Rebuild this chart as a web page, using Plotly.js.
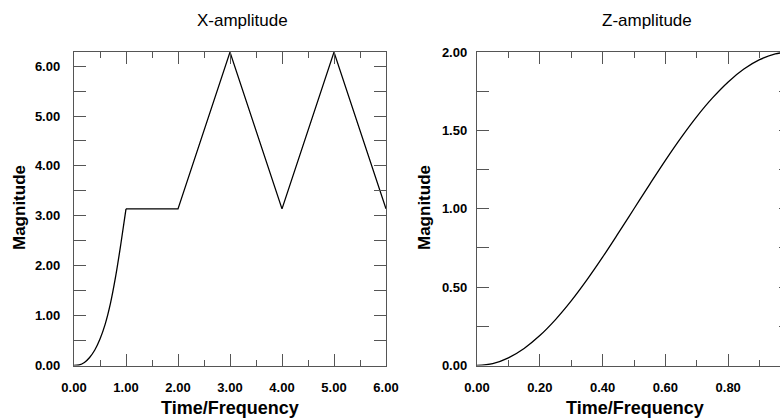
<!DOCTYPE html>
<html>
<head>
<meta charset="utf-8">
<script src="https://cdn.plot.ly/plotly-3.0.1.min.js"></script>
<style>
html,body{margin:0;padding:0;overflow:hidden;background:#fff;}
#chart{width:800px;height:420px;}
</style>
</head>
<body>
<div id="chart"></div>
<script>
// X-amplitude series
const xTime = [0, 0.1, 0.2, 0.3, 0.4, 0.5, 0.6, 0.7, 0.8, 0.9, 1.0, 2.0, 3.0, 4.0, 5.0, 6.0];
const xMag  = [0, 0.01, 0.06, 0.16, 0.31, 0.53, 0.83, 1.24, 1.78, 2.43, 3.14, 3.14, 6.28, 3.14, 6.28, 3.14];

// Z-amplitude series
const zTime = [0, 0.05, 0.1, 0.15, 0.2, 0.25, 0.3, 0.35, 0.4, 0.45, 0.5, 0.55, 0.6, 0.65, 0.7, 0.75, 0.8, 0.85, 0.9, 0.95, 1.0];
const zMag  = [0, 0.012, 0.049, 0.109, 0.191, 0.293, 0.412, 0.546, 0.691, 0.844, 1.0, 1.156, 1.309, 1.454, 1.588, 1.707, 1.809, 1.891, 1.951, 1.988, 2.0];

const titles = ['X-amplitude', 'Z-amplitude'];
const xTitle = 'Time/Frequency';
const yTitle = 'Magnitude';

const W = 800, H = 420;
const FONT = '"Liberation Sans", Arial, Helvetica, sans-serif';
const frame = '#555555';

function px(x){ return x / W; }
function py(y){ return 1 - y / H; }

// the smooth rise (first 11 points) is drawn as a spline, the rest as straight segments
const riseEnd = 11;
const traces = [
  {x: xTime.slice(0, riseEnd), y: xMag.slice(0, riseEnd), type: 'scatter', mode: 'lines', xaxis: 'x', yaxis: 'y',
   line: {color: '#000', width: 1.3, shape: 'spline'}, hoverinfo: 'skip'},
  {x: xTime.slice(riseEnd - 1), y: xMag.slice(riseEnd - 1), type: 'scatter', mode: 'lines', xaxis: 'x', yaxis: 'y',
   line: {color: '#000', width: 1.3}, hoverinfo: 'skip'},
  {x: zTime, y: zMag, type: 'scatter', mode: 'lines', xaxis: 'x2', yaxis: 'y2',
   line: {color: '#000', width: 1.3, shape: 'spline'}, hoverinfo: 'skip'}
];

function axis(opts){
  return Object.assign({
    showgrid: false, zeroline: false, showline: true, linecolor: frame, linewidth: 1.2,
    mirror: 'ticks', ticks: 'inside', ticklen: 12, tickwidth: 1, tickcolor: frame,
    tickformat: '.2f',
    tickfont: {family: FONT, size: 13, color: '#000', weight: 'bold'},
    fixedrange: true
  }, opts);
}

const yDom = [py(365.5), py(52)];

const layout = {
  width: W, height: H,
  margin: {l: 0, r: 0, t: 0, b: 0},
  paper_bgcolor: '#fff', plot_bgcolor: '#fff',
  showlegend: false,
  xaxis: axis({domain: [px(74), px(386)], range: [0, 6], dtick: 1, tick0: 0,
               ticklabelstandoff: 10, anchor: 'y',
               minor: {dtick: 0.5, ticks: 'inside', ticklen: 6, tickcolor: frame, tickwidth: 1}}),
  yaxis: axis({domain: yDom, range: [0, 6.2832], dtick: 1, tick0: 0,
               ticklabelstandoff: 10, anchor: 'x',
               minor: {dtick: 0.5, ticks: 'inside', ticklen: 12, tickcolor: frame, tickwidth: 1}}),
  xaxis2: axis({domain: [px(477), px(791)], range: [0, 1], dtick: 0.2, tick0: 0,
                ticklabelstandoff: 10, anchor: 'y2',
                minor: {dtick: 0.1, ticks: 'inside', ticklen: 6, tickcolor: frame, tickwidth: 1}}),
  yaxis2: axis({domain: yDom, range: [0, 2], dtick: 0.5, tick0: 0,
                ticklabelstandoff: 6, anchor: 'x2',
                minor: {dtick: 0.25, ticks: 'inside', ticklen: 12, tickcolor: frame, tickwidth: 1}}),
  annotations: [
    {text: titles[0], x: px(242), y: py(20), xref: 'paper', yref: 'paper', showarrow: false,
     xanchor: 'center', yanchor: 'middle', font: {family: FONT, size: 17, color: '#000'}},
    {text: titles[1], x: px(647), y: py(20), xref: 'paper', yref: 'paper', showarrow: false,
     xanchor: 'center', yanchor: 'middle', font: {family: FONT, size: 17, color: '#000'}},
    {text: xTitle, x: px(229.5), y: py(408), xref: 'paper', yref: 'paper', showarrow: false,
     xanchor: 'center', yanchor: 'middle', font: {family: FONT, size: 18, color: '#000', weight: 'bold'}},
    {text: xTitle, x: px(635), y: py(408), xref: 'paper', yref: 'paper', showarrow: false,
     xanchor: 'center', yanchor: 'middle', font: {family: FONT, size: 18, color: '#000', weight: 'bold'}},
    {text: yTitle, x: px(19), y: py(208), xref: 'paper', yref: 'paper', showarrow: false, textangle: -90,
     xanchor: 'center', yanchor: 'middle', font: {family: FONT, size: 17, color: '#000', weight: 'bold'}},
    {text: yTitle, x: px(424), y: py(208), xref: 'paper', yref: 'paper', showarrow: false, textangle: -90,
     xanchor: 'center', yanchor: 'middle', font: {family: FONT, size: 17, color: '#000', weight: 'bold'}}
  ]
};

Plotly.newPlot('chart', traces, layout, {displayModeBar: false, staticPlot: true});
</script>
</body>
</html>
